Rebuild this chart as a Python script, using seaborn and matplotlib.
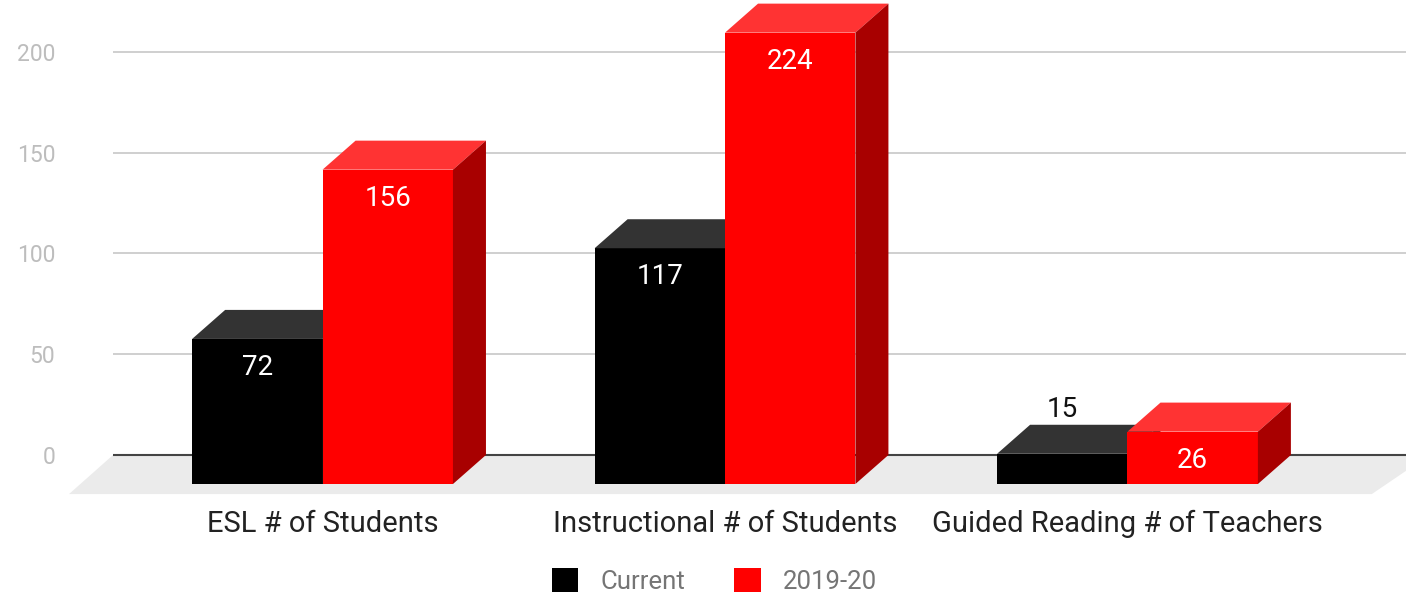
import numpy as np
import pandas as pd
import matplotlib
matplotlib.use("Agg")
import matplotlib.pyplot as plt
from matplotlib.patches import Polygon
import seaborn as sns

categories = ["ESL # of Students", "Instructional # of Students", "Guided Reading # of Teachers"]
current = [72, 117, 15]
prev_year = [156, 224, 26]
series = ["Current", "2019-20"]

df = pd.DataFrame({
    "category": categories * 2,
    "series": [series[0]] * 3 + [series[1]] * 3,
    "value": current + prev_year,
})

sns.set_style("white")
plt.rcParams["font.family"] = ["Roboto", "DejaVu Sans"]

fig = plt.figure(figsize=(14.06, 5.96), dpi=100)
ax = fig.add_axes([69 / 1406, 1 - 496 / 596, 1337 / 1406, 496 / 596])

front = {"Current": "#000000", "2019-20": "#ff0000"}
top_col = {"Current": "#333333", "2019-20": "#ff3333"}
side_col = {"Current": "#1a1a1a", "2019-20": "#a80000"}

sns.barplot(data=df, x="category", y="value", hue="series", hue_order=series,
            palette=front, width=0.648, saturation=1, linewidth=0, ax=ax)

dx, dy = 0.082, 14.4   # 3d depth
ax.set_xlim(-0.630, 2.692)
ax.set_ylim(-20.35, 225.8)

# floor and grid
ax.add_patch(Polygon([(-0.5205, 0), (2.75, 0), (2.607, -19.4), (-0.630, -19.4)],
                     closed=True, facecolor="#ebebeb", edgecolor="none", zorder=0.5))
for g in [50, 100, 150, 200]:
    ax.hlines(g, -0.5205, 2.692, color="#cccccc", lw=1.3, zorder=0.6)
ax.hlines(0, -0.5205, 2.692, color="#444444", lw=1.5, zorder=1)

for s, cont in zip(series, ax.containers):
    z = 3 if s == "Current" else 4
    for p in cont.patches:
        v = p.get_height()
        p.set_y(-dy)
        p.set_zorder(z)
        x0, w = p.get_x(), p.get_width()
        y0 = p.get_y()
        top = y0 + v
        ax.add_patch(Polygon([(x0, top), (x0 + w, top), (x0 + w + dx, top + dy), (x0 + dx, top + dy)],
                             closed=True, facecolor=top_col[s], edgecolor="none", zorder=z))
        ax.add_patch(Polygon([(x0 + w, y0), (x0 + w + dx, y0 + dy), (x0 + w + dx, top + dy), (x0 + w, top)],
                             closed=True, facecolor=side_col[s], edgecolor="none", zorder=z))
        if v < 20:
            ax.text(x0 + w / 2, v + 7.5, f"{v:.0f}", ha="center", va="center",
                    fontsize=20, color="#111111", zorder=6)
        else:
            ax.text(x0 + w / 2, v - 28.5, f"{v:.0f}", ha="center", va="center",
                    fontsize=20, color="white", zorder=6)

for sp in ax.spines.values():
    sp.set_visible(False)
ax.set_xlabel("")
ax.set_ylabel("")
ax.set_yticks([0, 50, 100, 150, 200])
ax.tick_params(axis="y", length=0, pad=10, labelsize=16.5, labelcolor="#bdbdbd")
ax.tick_params(axis="x", length=0, pad=10, labelsize=21, labelcolor="#222222")

sns.move_legend(ax, "center", bbox_to_anchor=(0.508, 0.025), bbox_transform=fig.transFigure,
                ncol=2, frameon=False, title=None, fontsize=18.5,
                handlelength=1.05, handleheight=1.05, handletextpad=0.85, columnspacing=1.9)
for t in ax.get_legend().get_texts():
    t.set_color("#757575")

fig.savefig("out.png", dpi=100)
